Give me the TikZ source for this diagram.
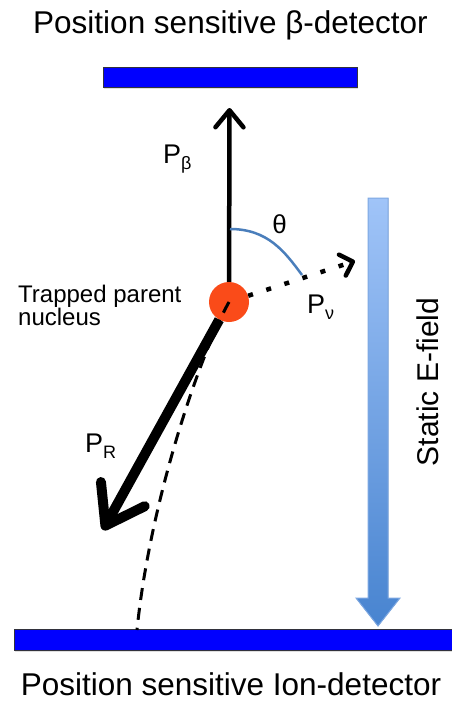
\documentclass[tikz,border=0pt]{standalone}
\usepackage{fontspec}
\setmainfont{Liberation Sans}
\usetikzlibrary{arrows.meta,shadows}
\definecolor{detBlue}{RGB}{0,0,255}
\definecolor{detEdge}{RGB}{50,50,60}
\definecolor{nucOrange}{RGB}{250,75,25}
\definecolor{angBlue}{RGB}{74,126,187}
\definecolor{fieldTop}{RGB}{160,196,248}
\definecolor{fieldBot}{RGB}{72,132,208}
\definecolor{fieldEdge}{RGB}{125,168,226}
\newcommand{\lowsub}[1]{\raisebox{-6pt}{\fontsize{18}{18}\selectfont #1}}
\tikzset{
    caption/.style={font=\fontsize{31.5}{36}\selectfont, inner sep=0pt, anchor=base},
    detector/.style={rectangle, draw=detEdge, line width=0.8pt, fill=detBlue, inner sep=0pt,
                     drop shadow={opacity=0.25, shadow xshift=0.4mm, shadow yshift=-0.8mm}},
    nucleus/.style={circle, fill=nucOrange, minimum size=40pt, inner sep=0pt},
    label/.style={font=\fontsize{27}{30}\selectfont, inner sep=0pt, anchor=base west},
    momentum/.style={line width=4.5pt, -{Straight Barb[length=17pt,width=28pt,round]}},
    recoil/.style={line width=10pt, -{Straight Barb[length=36pt,width=50pt,round]}},
    neutrino/.style={line width=4.5pt, dash pattern=on 5pt off 14pt,
                     -{Straight Barb[length=11pt,width=22pt,round]}},
    ionpath/.style={line width=3pt, dash pattern=on 12pt off 8pt},
    angle/.style={draw=angBlue, line width=2.5pt},
    field/.style={draw=fieldEdge, line width=1pt, top color=fieldTop, bottom color=fieldBot}
}

\begin{document}
\begin{tikzpicture}[x=1pt, y=-1pt]
  \useasboundingbox (0,0) rectangle (451,707);

  % detectors and their names
  \node[caption] (betaTitle) at (230.5,33) {Position sensitive β-detector};
  \node[detector, minimum width=254pt, minimum height=20pt] (betaDet) at (230,77) {};
  \node[detector, minimum width=460pt, minimum height=21pt] (ionDet) at (244,639.5) {};
  \node[caption] (ionTitle) at (231,695) {Position sensitive Ion-detector};

  % static field
  \filldraw[field] (368,198) -- (388,198) -- (388,598) -- (400,598) -- (378,626)
    -- (356,598) -- (368,598) -- cycle;
  \node[caption, font=\fontsize{30}{34}\selectfont, rotate=90] (fieldLabel) at (438,382) {Static E-field};

  % decay
  \node[nucleus] (nucleus) at (229,302) {};
  \coordinate (betaTip) at (229.5,108);
  \coordinate (recoilTip) at (103,530);
  \coordinate (nuTip) at (355,261);
  \coordinate (ionHit) at (137,630);
  \coordinate (thetaStart) at (230,229);
  \coordinate (thetaEnd) at (302,275);

  \draw[momentum] (nucleus) -- (betaTip);
  \draw[recoil] (nucleus) -- (recoilTip);
  \draw[neutrino] (nucleus) -- (nuTip);
  \draw[ionpath] (nucleus.center) .. controls (201,352) and (150,500) .. (ionHit);
  \draw[angle] (thetaStart) .. controls (268,229) and (285,252) .. (thetaEnd);

  \node[label] (pBeta) at (163,163) {P\lowsub{β}};
  \node[label] (pNu) at (307,313) {P\lowsub{ν}};
  \node[label] (pRecoil) at (85,452) {P\lowsub{R}};
  \node[label, anchor=base, font=\fontsize{26}{30}\selectfont] (theta) at (279.5,233) {θ};
  \node[label, anchor=north west, align=left, font=\fontsize{24}{22}\selectfont] (nucLabel) at (18,284.5) {Trapped parent\\nucleus};
\end{tikzpicture}
\end{document}
